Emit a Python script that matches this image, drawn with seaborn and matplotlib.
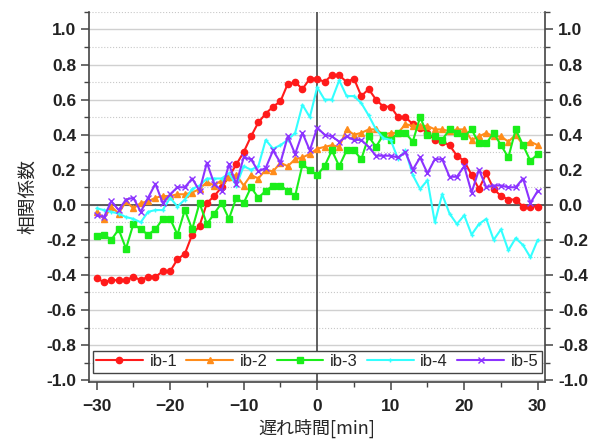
import numpy as np
import pandas as pd
import seaborn as sns
import matplotlib.pyplot as plt
from matplotlib.ticker import MultipleLocator, FormatStrFormatter

# 遅れ時間 [min]
lags = list(range(-30, 31))

ib1 = [-0.42, -0.44, -0.43, -0.43, -0.43, -0.41, -0.43, -0.41, -0.41, -0.38,
       -0.38, -0.31, -0.28, -0.17, -0.12, 0.01, 0.05, 0.10, 0.16, 0.23,
       0.30, 0.39, 0.47, 0.52, 0.56, 0.59, 0.69, 0.70, 0.66, 0.72,
       0.72, 0.70, 0.74, 0.74, 0.70, 0.72, 0.62, 0.66, 0.60, 0.56,
       0.56, 0.50, 0.50, 0.46, 0.44, 0.41, 0.37, 0.36, 0.34, 0.28,
       0.25, 0.17, 0.09, 0.18, 0.09, 0.05, 0.03, 0.03, -0.01, -0.01, -0.01]

ib2 = [-0.04, -0.08, -0.01, -0.05, 0.02, -0.02, 0.01, 0.02, 0.04, 0.05,
       0.05, 0.06, 0.06, 0.07, 0.09, 0.13, 0.11, 0.14, 0.16, 0.17,
       0.11, 0.17, 0.15, 0.20, 0.19, 0.24, 0.22, 0.26, 0.27, 0.29,
       0.32, 0.33, 0.34, 0.33, 0.43, 0.40, 0.41, 0.43, 0.43, 0.40,
       0.41, 0.41, 0.46, 0.45, 0.45, 0.45, 0.43, 0.43, 0.42, 0.43,
       0.43, 0.37, 0.39, 0.41, 0.39, 0.39, 0.36, 0.40, 0.34, 0.36, 0.34]

ib3 = [-0.18, -0.17, -0.20, -0.14, -0.25, -0.11, -0.14, -0.17, -0.14, -0.08,
       -0.08, -0.17, -0.03, -0.14, 0.01, -0.11, -0.05, 0.01, -0.08, 0.04,
       0.01, 0.10, 0.04, 0.08, 0.11, 0.11, 0.08, 0.05, 0.23, 0.20,
       0.17, 0.22, 0.31, 0.22, 0.31, 0.31, 0.26, 0.39, 0.33, 0.40,
       0.37, 0.41, 0.41, 0.36, 0.50, 0.40, 0.39, 0.37, 0.43, 0.41,
       0.39, 0.43, 0.35, 0.35, 0.41, 0.34, 0.27, 0.43, 0.34, 0.25, 0.29]

ib4 = [-0.02, -0.03, -0.04, -0.05, -0.07, -0.08, -0.10, -0.04, -0.03, -0.03,
       0.04, -0.01, 0.03, 0.09, 0.11, 0.15, 0.15, 0.15, 0.18, 0.11,
       0.22, 0.20, 0.22, 0.37, 0.32, 0.34, 0.37, 0.41, 0.57, 0.50,
       0.67, 0.60, 0.60, 0.71, 0.62, 0.62, 0.58, 0.51, 0.43, 0.38,
       0.37, 0.26, 0.31, 0.17, 0.09, 0.14, -0.10, 0.06, -0.05, -0.11,
       -0.06, -0.17, -0.11, -0.08, -0.20, -0.14, -0.26, -0.19, -0.23, -0.30, -0.20]

ib5 = [-0.06, -0.07, 0.02, -0.03, 0.03, 0.04, -0.04, 0.04, 0.12, 0.01,
       0.06, 0.10, 0.10, 0.15, 0.08, 0.24, 0.12, 0.08, 0.23, 0.12,
       0.27, 0.26, 0.19, 0.21, 0.31, 0.24, 0.39, 0.29, 0.41, 0.31,
       0.44, 0.40, 0.39, 0.36, 0.39, 0.37, 0.37, 0.33, 0.28, 0.28,
       0.28, 0.27, 0.30, 0.20, 0.27, 0.18, 0.26, 0.26, 0.16, 0.16,
       0.22, 0.07, 0.20, 0.10, 0.11, 0.11, 0.10, 0.10, 0.15, 0.01, 0.08]

series_names = ['ib-1', 'ib-2', 'ib-3', 'ib-4', 'ib-5']
series_values = [ib1, ib2, ib3, ib4, ib5]
colors = ['#ff1a1a', '#ff8c1a', '#1aee1a', '#33ffff', '#8c33ff']
markers = ['o', '^', 's', '+', 'x']
msizes = [4.5, 5, 4.5, 3, 5]

sns.set_style('white')
plt.rcParams['font.family'] = ['Liberation Sans', 'Noto Sans CJK JP', 'DejaVu Sans']

fig = plt.figure(figsize=(6.03, 4.42), dpi=100)
ax = fig.add_axes([0.148, 0.136, 0.756, 0.837])

# 補助線
ax.yaxis.set_major_locator(MultipleLocator(0.2))
ax.yaxis.set_minor_locator(MultipleLocator(0.1))
ax.xaxis.set_major_locator(MultipleLocator(10))
ax.xaxis.set_minor_locator(MultipleLocator(5))
ax.grid(axis='y', which='major', color='#d0d0d0', lw=1.0, ls='-')
ax.grid(axis='y', which='minor', color='#c8c8c8', lw=0.8, ls=':')
ax.grid(axis='x', which='both', visible=False)
ax.set_axisbelow(True)

for name, vals, c, m, ms in zip(series_names, series_values, colors, markers, msizes):
    df = pd.DataFrame({'lag': lags, 'r': vals})
    sns.lineplot(data=df, x='lag', y='r', color=c, marker=m, markersize=ms,
                 markeredgecolor=c, markerfacecolor=c, markeredgewidth=1.0,
                 lw=1.5, label=name, ax=ax, zorder=3)

ax.axhline(0, color='#444444', lw=1.2, zorder=2)
ax.axvline(0, color='#444444', lw=1.2, zorder=2)

ax.set_xlim(-31, 31)
ax.set_ylim(-1.01, 1.1)
ax.yaxis.set_major_formatter(FormatStrFormatter('%.1f'))

for side in ['left', 'right', 'bottom']:
    ax.spines[side].set_color('#444444')
    ax.spines[side].set_linewidth(1.2)
ax.spines['top'].set_visible(False)

ax.tick_params(axis='both', which='major', direction='out', length=6, width=1.1,
               color='#444444', labelsize=12.5, labelcolor='#222222')
ax.tick_params(axis='x', which='major', pad=6)
ax.tick_params(axis='both', which='minor', direction='out', length=3.5, width=1.0,
               color='#444444')
ax.tick_params(axis='y', which='both', left=True, right=True, labelright=True)
ax.tick_params(axis='x', which='both', bottom=True, top=False)
for t in ax.yaxis.get_major_ticks() + ax.xaxis.get_major_ticks():
    t.label1.set_fontweight('bold')
    t.label2.set_fontweight('bold')

ax.set_xlabel('遅れ時間[min]', fontsize=13, family=['Noto Sans CJK JP'], labelpad=4)
ax.set_ylabel('相関係数', fontsize=13.5, family=['Noto Sans CJK JP'], labelpad=6)

leg = ax.legend(loc='lower center', bbox_to_anchor=(0.5, 0.025), ncol=5,
                fontsize=12, frameon=True, fancybox=False, framealpha=1,
                edgecolor='#444444', handlelength=2.8, handletextpad=0.4,
                columnspacing=0.55, borderpad=0.2, borderaxespad=0)
leg.get_frame().set_linewidth(1.0)

fig.savefig('out.png', dpi=100)
